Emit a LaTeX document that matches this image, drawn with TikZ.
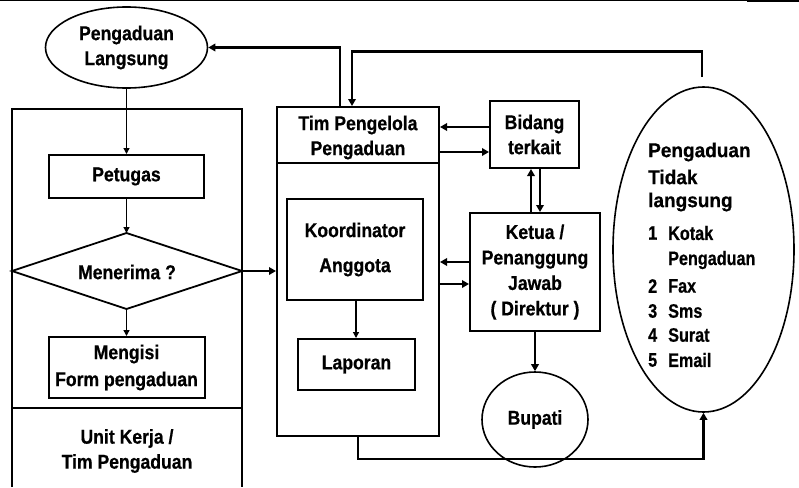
\documentclass[tikz,border=0pt]{standalone}
\usepackage{fontspec}
\setmainfont{Liberation Sans}
\newfontfamily\hfnt[FakeStretch=0.88,FakeBold=0.6]{Liberation Sans Bold}
\newfontfamily\rfnt[FakeStretch=0.95,FakeBold=0.6]{Liberation Sans Bold}
\newfontfamily\lfnt[FakeStretch=0.83,FakeBold=0.6]{Liberation Sans Bold}
\usetikzlibrary{arrows.meta,shapes.geometric}
\begin{document}
\begin{tikzpicture}[x=1pt,y=-1pt,
  box/.style={draw,line width=2pt,inner sep=0pt,align=center,font=\hfnt\fontsize{20}{25}\selectfont},
  oval/.style={draw,ellipse,line width=1.6pt,inner sep=0pt,align=center,font=\hfnt\fontsize{20}{25}\selectfont},
  txt/.style={inner sep=0pt,align=center,font=\hfnt\fontsize{20}{25}\selectfont},
  rtxt/.style={inner sep=0pt,anchor=west,font=\rfnt\fontsize{20}{25}\selectfont},
  ltxt/.style={inner sep=0pt,anchor=west,font=\lfnt\fontsize{19.5}{25}\selectfont},
  thickarr/.style={line width=2.2pt,-{Triangle[length=7pt,width=7.5pt]}},
  thinarr/.style={line width=1.3pt,-{Triangle[length=6pt,width=6pt]}}
]
\useasboundingbox (0,0) rectangle (799,487);
% header rule
\draw[line width=0.8pt] (0,0.5) -- (747,0.5);
\draw[line width=2.2pt] (747,1.2) -- (799,1.2);

% left column
\draw[line width=1.8pt] (12,487) -- (12,109) -- (242,109) -- (242,487);
\draw[line width=1.8pt] (12,408) -- (242,408);
\node[oval,minimum width=162pt,minimum height=81pt] (lang) at (126.5,47.5) {Pengaduan\\Langsung};
\node[box,minimum width=155pt,minimum height=43pt] (petugas) at (126.5,176.5) {Petugas};
\coordinate (dleft) at (12,271);
\coordinate (dtop) at (126.5,233);
\coordinate (dright) at (242,271);
\coordinate (dbot) at (126.5,309);
\draw[line width=1.8pt] (dleft) -- (dtop) -- (dright) -- (dbot) -- cycle;
\node[txt] (menerima) at (127,272) {Menerima ?};
\node[box,minimum width=156pt,minimum height=61pt] (mengisi) at (126.5,367.5) {Mengisi\\[2pt]Form pengaduan};
\node[txt] (unit) at (127,451) {Unit Kerja /\\Tim Pengaduan};

% middle column
\node[box,minimum width=162pt,minimum height=329pt] (tim) at (358,271.5) {};
\draw[line width=2pt] (277,163) -- (439,163);
\node[txt] (timhead) at (358,137.5) {Tim Pengelola\\Pengaduan};
\node[box,minimum width=136pt,minimum height=101pt] (koord) at (355,249.5) {Koordinator\\[10pt]Anggota};
\node[box,minimum width=117pt,minimum height=51pt] (lapor) at (356.5,364.5) {Laporan};

\node[box,minimum width=89pt,minimum height=67pt] (bidang) at (534.5,134.5) {Bidang\\terkait};
\node[box,minimum width=130pt,minimum height=118pt] (ketua) at (535,272) {Ketua /\\[0.5pt]Penanggung\\[0.5pt]Jawab\\[0.5pt]( Direktur )};
\node[oval,minimum width=106pt,minimum height=95pt] (bupati) at (535,419.5) {Bupati};

% right ellipse
\node[oval,minimum width=181pt,minimum height=325pt] (tidak) at (703.5,249.5) {};
\node[rtxt] (t1) at (648,152) {Pengaduan};
\node[rtxt] (t2) at (648,177) {Tidak};
\node[rtxt] (t3) at (648,202) {langsung};
\node[ltxt] (n1) at (648,233) {1};
\node[ltxt] (w1) at (668,233) {Kotak};
\node[ltxt] (w1b) at (668,260) {Pengaduan};
\node[ltxt] (n2) at (648,286) {2};
\node[ltxt] (w2) at (668,286) {Fax};
\node[ltxt] (n3) at (648,311) {3};
\node[ltxt] (w3) at (668,311) {Sms};
\node[ltxt] (n4) at (648,335) {4};
\node[ltxt] (w4) at (668,335) {Surat};
\node[ltxt] (n5) at (648,360) {5};
\node[ltxt] (w5) at (668,360) {Email};

% connectors - left
\draw[thinarr] (lang.south) -- (petugas.north);
\draw[thinarr] (petugas.south) -- (dtop);
\draw[thinarr] (dbot) -- (mengisi.north);
\draw[thickarr] (dright) -- (dright -| tim.west);
\draw[thinarr] (koord.south -| 356,0) -- (lapor.north -| 356,0);

% Tim <-> Bidang
\draw[thickarr] (bidang.west |- 0,127) -- (tim.east |- 0,127);
\draw[thickarr] (tim.east |- 0,152) -- (bidang.west |- 0,152);
% Bidang <-> Ketua
\draw[thickarr] (ketua.north -| 531,0) -- (bidang.south -| 531,0);
\draw[thickarr] (bidang.south -| 540,0) -- (ketua.north -| 540,0);
% Ketua <-> Tim
\draw[thickarr] (ketua.west |- 0,262) -- (tim.east |- 0,262);
\draw[thickarr] (tim.east |- 0,284) -- (ketua.west |- 0,284);
% Ketua -> Bupati
\draw[thickarr] (ketua.south) -- (bupati.north);
% bottom loop
\draw[thickarr] (tim.south) -- (358,459) -| (tidak.south);
% top loops
\coordinate (tt) at (702,77);
\draw[thickarr] (tt) -- (702,51.5) -| (tim.north -| 352,0);
\draw[thickarr] (tim.north -| 340,0) |- (lang.east);
\end{tikzpicture}
\end{document}
